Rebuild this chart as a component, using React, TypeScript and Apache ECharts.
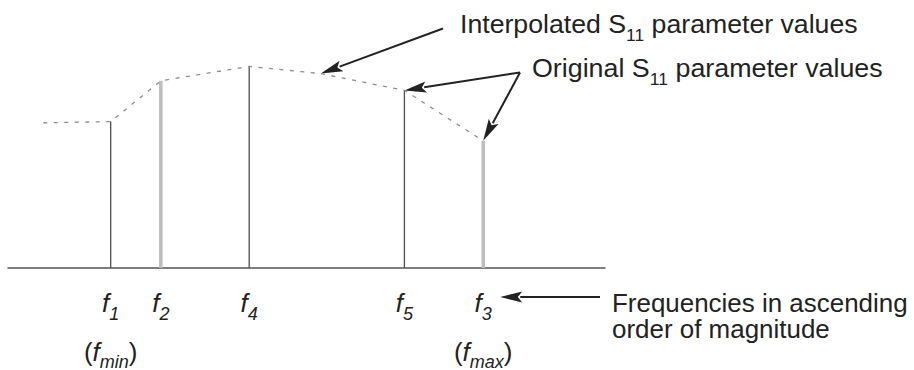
import React, { useEffect, useRef } from "react";
import * as echarts from "echarts";

// Frequencies (ascending) and their original S11 values
const freqSubscripts = ["1", "2", "4", "5", "3"];
const freqs = [1.72, 2.56, 4.04, 6.64, 7.96];
const s11Values = [0.61, 0.78, 0.84, 0.74, 0.53];
const freqExtra = ["min", "", "", "", "max"];

// Dashed interpolation curve extras
const leadFreq = 0.59;
const leadValue = 0.605;
const interpFreq = 5.24;
const interpValue = 0.81;

const textTop1 = "Interpolated S";
const textTop2 = "Original S";
const textSub = "11";
const textTail = " parameter values";
const textFreqLines = ["Frequencies in ascending", "order of magnitude"];

const FONT = "'Liberation Sans', Arial, Helvetica, sans-serif";
const INK = "#222";

function arrow(tip: number[], tail: number[], len: number, half: number) {
  const dx = tip[0] - tail[0];
  const dy = tip[1] - tail[1];
  const d = Math.hypot(dx, dy);
  const ux = dx / d;
  const uy = dy / d;
  const nx = -uy;
  const ny = ux;
  const bx = tip[0] - ux * len;
  const by = tip[1] - uy * len;
  return [
    {
      type: "line",
      shape: { x1: tail[0], y1: tail[1], x2: bx + ux * 2, y2: by + uy * 2 },
      style: { stroke: INK, lineWidth: 2 },
      silent: true,
    },
    {
      type: "polygon",
      shape: {
        points: [
          [tip[0], tip[1]],
          [bx + nx * half, by + ny * half],
          [bx + ux * len * 0.2, by + uy * len * 0.2],
          [bx - nx * half, by - ny * half],
        ],
      },
      style: { fill: INK },
      silent: true,
    },
  ];
}

export default function App() {
  const ref = useRef<HTMLDivElement>(null);
  useEffect(() => {
    if (!ref.current) return;
    const chart = echarts.init(ref.current, null, { renderer: "svg" });

    const curve: number[][] = [[leadFreq, leadValue]];
    freqs.forEach((f, i) => curve.push([f, s11Values[i]]));
    curve.push([interpFreq, interpValue]);
    curve.sort((a, b) => a[0] - b[0]);

    const stems = freqs.map((f, i) => [f, s11Values[i]]);

    chart.setOption({
      animation: false,
      grid: { left: 8, right: 309, top: 28, bottom: 102, outerBoundsMode: "none", containLabel: false },
      xAxis: {
        type: "value",
        min: 0,
        max: 10,
        axisLine: { show: true, lineStyle: { color: "#555", width: 1.5 } },
        axisTick: { show: false },
        splitLine: { show: false },
        axisLabel: {
          customValues: freqs,
          margin: 15,
          hideOverlap: false,
          formatter: (v: number) => {
            let idx = 0;
            let best = Infinity;
            freqs.forEach((f, i) => {
              if (Math.abs(f - v) < best) {
                best = Math.abs(f - v);
                idx = i;
              }
            });
            let s = `{f|f}{s|${freqSubscripts[idx]}}`;
            if (freqExtra[idx]) s += `\n{p|(}{g|f}{m|${freqExtra[idx]}}{p|)}`;
            return s;
          },
          rich: {
            f: { fontFamily: FONT, fontStyle: "italic", fontSize: 26, lineHeight: 40, color: INK },
            s: { fontFamily: FONT, fontStyle: "italic", fontSize: 18, lineHeight: 17, verticalAlign: "bottom", color: INK },
            p: { fontFamily: FONT, fontSize: 26, lineHeight: 58, color: INK },
            g: { fontFamily: FONT, fontStyle: "italic", fontSize: 26, lineHeight: 58, color: INK },
            m: { fontFamily: FONT, fontStyle: "italic", fontSize: 18, padding: [19, 0, 0, 0], color: INK },
          },
        },
      },
      yAxis: {
        type: "value",
        min: 0,
        max: 1,
        show: false,
      },
      series: [
        {
          type: "custom",
          name: "Original S11",
          data: stems,
          z: 2,
          renderItem: (params: any, api: any) => {
            const x = api.value(0);
            const y = api.value(1);
            const top = api.coord([x, y]);
            const base = api.coord([x, 0]);
            const heavy = params.dataIndex === 1 || params.dataIndex === 4;
            return {
              type: "line",
              shape: { x1: top[0], y1: top[1], x2: base[0], y2: base[1] },
              style: {
                stroke: heavy ? "#bdbdbd" : "#4d4d4d",
                lineWidth: heavy ? 3.5 : 1.3,
              },
            };
          },
        },
        {
          type: "line",
          name: "Interpolated S11",
          data: curve,
          symbol: "none",
          z: 3,
          lineStyle: { color: "#8c8c8c", width: 1.3, type: [4, 6.5] },
        },
      ],
    });

    const px = (p: number[]) => chart.convertToPixel({ gridIndex: 0 }, p) as number[];
    const tipInterp = px([interpFreq, interpValue]);
    const tipF5 = px([freqs[3], s11Values[3]]);
    const tipF3 = px([freqs[4], s11Values[4]]);
    const f3Base = px([freqs[4], 0]);
    const labelArrowTip = [f3Base[0] + 17, 297];
    const labelArrowTail = [600, 297];

    const richTop = {
      t: { fontFamily: FONT, fontSize: 26, lineHeight: 40, fill: INK },
      b: { fontFamily: FONT, fontSize: 17, lineHeight: 18, verticalAlign: "bottom", fill: INK },
    };

    chart.setOption({
      graphic: [
        {
          type: "text",
          x: 460,
          y: 4,
          scaleX: 1.026,
          style: {
            text: `{t|${textTop1}}{b|${textSub}}{t|${textTail}}`,
            rich: richTop,
            fontFamily: FONT,
            fontSize: 26,
            fill: INK,
            verticalAlign: "top",
            align: "left",
          },
        },
        {
          type: "text",
          x: 532,
          y: 48,
          scaleX: 1.032,
          style: {
            text: `{t|${textTop2}}{b|${textSub}}{t|${textTail}}`,
            rich: richTop,
            fontFamily: FONT,
            fontSize: 26,
            fill: INK,
            verticalAlign: "top",
            align: "left",
          },
        },
        ...textFreqLines.map((line, i) => ({
          type: "text",
          x: 612,
          y: 290.5 + i * 26,
          scaleX: 1.038,
          style: {
            text: line,
            fontFamily: FONT,
            fontSize: 25,
            fill: INK,
            verticalAlign: "top",
            align: "left",
          },
        })),
        ...arrow(tipInterp, [443, 28.5], 22, 5.5),
        ...arrow(tipF5, [520, 72.5], 22, 5.5),
        ...arrow(tipF3, [520, 72.5], 22, 5.5),
        ...arrow(labelArrowTip, labelArrowTail, 22, 5.5),
      ],
    });

    return () => chart.dispose();
  }, []);

  return (
    <div
      ref={ref}
      style={{ position: "absolute", left: 0, top: 0, width: 914, height: 370, background: "#fff" }}
    />
  );
}
